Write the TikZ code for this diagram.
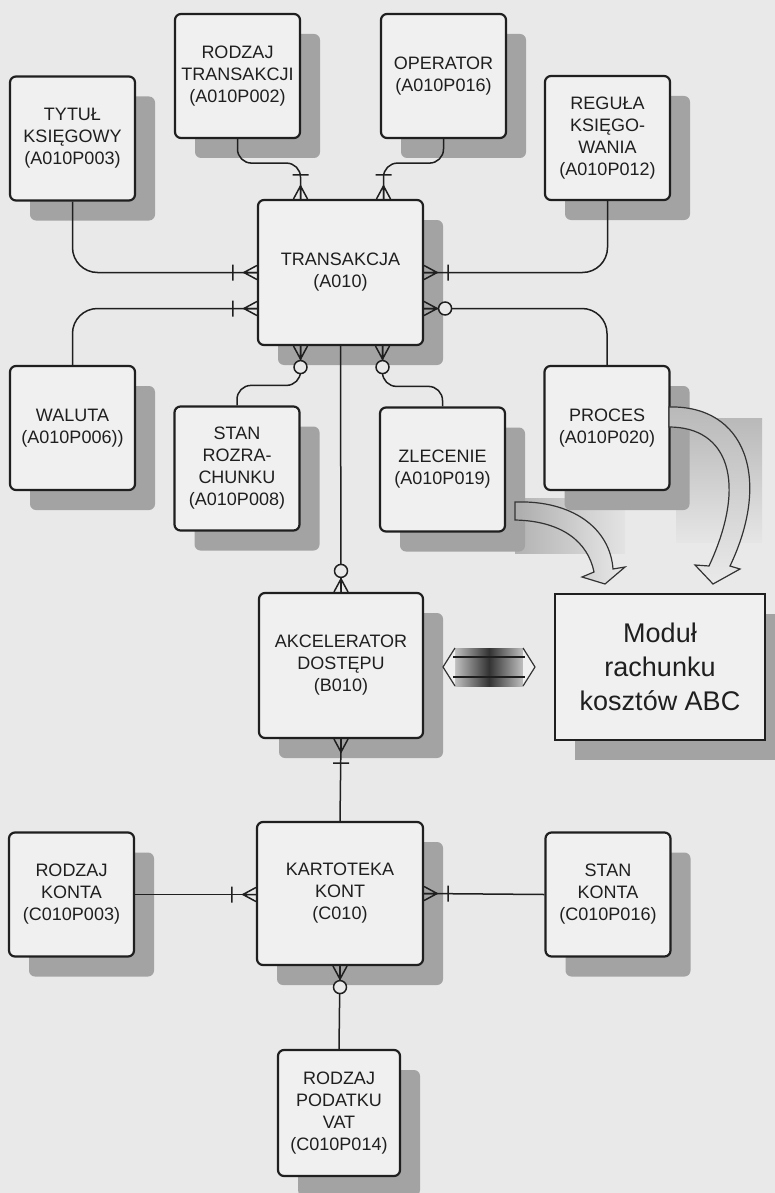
\documentclass[tikz,border=0pt]{standalone}
\usepackage{fontspec}
\setmainfont{Liberation Sans}
\usetikzlibrary{shadows}
\definecolor{paper}{gray}{0.915}
\definecolor{boxfill}{gray}{0.94}
\definecolor{ink}{gray}{0.12}
\definecolor{shade}{gray}{0.64}
\tikzset{
  entity/.style={draw=ink, line width=2.2pt, rounded corners=6pt, fill=boxfill, text=ink,
    align=center, font=\fontsize{18pt}{22pt}\selectfont, inner sep=2pt,
    minimum width=125pt, minimum height=124pt,
    drop shadow={shadow xshift=20pt, shadow yshift=-20pt, fill=shade, opacity=1}},
  module/.style={entity, rounded corners=0pt, line width=2.8pt,
    font=\fontsize{27pt}{34pt}\selectfont},
  conn/.style={draw=ink, line width=1.5pt},
  bigarrow/.style={draw=gray!40!black, line width=1.2pt},
  manyone/.pic={\draw[conn] (0,7) -- (13,0) -- (0,-7) (0,0) -- (13,0) (24,-8) -- (24,8);},
  manyzero/.pic={\draw[conn] (0,7) -- (13,0) -- (0,-7) (0,0) -- (13,0);
    \draw[conn, fill=paper] (21,0) circle[radius=6.5pt];}
}
\begin{document}
\begin{tikzpicture}[x=1pt,y=-1pt]
\fill[paper] (0,0) rectangle (775,1193);
\useasboundingbox (0,0) rectangle (775,1193);
\shade[left color=gray!60, right color=gray!22] (515,498) rectangle (625,553);
\shade[top color=gray!55, bottom color=gray!20] (676,418) rectangle (762,542);

\node[entity] (tytul) at (72.5,138.5) {TYTUŁ\\KSIĘGOWY\\(A010P003)};
\node[entity] (rtrans) at (237.5,76) {RODZAJ\\TRANSAKCJI\\(A010P002)};
\node[entity] (operator) at (443.5,76) {OPERATOR\\(A010P016)};
\node[entity] (regula) at (607.5,138) {REGUŁA\\KSIĘGO-\\WANIA\\(A010P012)};
\node[entity, minimum width=165pt, minimum height=145pt] (transakcja) at (340.5,272.5) {TRANSAKCJA\\(A010)};
\node[entity] (waluta) at (72.5,428) {WALUTA\\(A010P006))};
\node[entity] (stanrozr) at (237,468.5) {STAN\\ROZRA-\\CHUNKU\\(A010P008)};
\node[entity] (zlecenie) at (442.5,469.5) {ZLECENIE\\(A010P019)};
\node[entity] (proces) at (607,428) {PROCES\\(A010P020)};
\node[entity, minimum width=164pt, minimum height=145pt] (akcel) at (341,665.5) {AKCELERATOR\\DOSTĘPU\\(B010)};
\node[module, minimum width=210pt, minimum height=146pt] (modul) at (660,667) {Moduł\\rachunku\\kosztów ABC};
\node[entity] (rkonta) at (71.5,894.5) {RODZAJ\\KONTA\\(C010P003)};
\node[entity, minimum width=166pt, minimum height=143pt] (kartoteka) at (340,893.5) {KARTOTEKA\\KONT\\(C010)};
\node[entity] (stankonta) at (608,894.5) {STAN\\KONTA\\(C010P016)};
\node[entity, minimum width=122pt, minimum height=126pt] (podatek) at (339,1113) {RODZAJ\\PODATKU\\VAT\\(C010P014)};

\coordinate (t1) at ([xshift=-40pt]transakcja.north);
\coordinate (t2) at ([xshift=43pt]transakcja.north);
\coordinate (b1) at ([xshift=-40pt]transakcja.south);
\coordinate (b2) at ([xshift=42pt]transakcja.south);
\coordinate (w2) at ([yshift=-36pt]transakcja.west);
\coordinate (e2) at ([yshift=-36pt]transakcja.east);

\draw[conn, rounded corners=25pt] (tytul.south) |- (transakcja.west);
\draw[conn, rounded corners=25pt] (waluta.north) |- (w2);
\draw[conn, rounded corners=14pt] (rtrans.south) -- ++(0,24) -| (t1);
\draw[conn, rounded corners=14pt] (operator.south) -- ++(0,24) -| (t2);
\draw[conn, rounded corners=25pt] (regula.south) |- (transakcja.east);
\draw[conn, rounded corners=25pt] (proces.north) |- (e2);
\draw[conn, rounded corners=14pt] (stanrozr.north) -- ++(0,-20) -| (b1);
\draw[conn, rounded corners=14pt] (zlecenie.north) -- ++(0,-20) -| (b2);
\draw[conn] (transakcja.south) -- (akcel.north);
\draw[conn] (akcel.south) -- (kartoteka.north);
\draw[conn] (rkonta.east) -- (kartoteka.west |- rkonta.east);
\draw[conn] (kartoteka.east) -- (stankonta.west);
\draw[conn] (kartoteka.south) -- (podatek.north);

\pic[rotate=180] at (transakcja.west) {manyone};
\pic[rotate=180] at (w2) {manyone};
\pic[rotate=90] at (t1) {manyone};
\pic[rotate=90] at (t2) {manyone};
\pic at (transakcja.east) {manyone};
\pic at (e2) {manyzero};
\pic[rotate=-90] at (b1) {manyzero};
\pic[rotate=-90] at (b2) {manyzero};
\pic[rotate=90] at (akcel.north) {manyzero};
\pic[rotate=-90] at (akcel.south) {manyone};
\pic[rotate=180] at (kartoteka.west |- rkonta.east) {manyone};
\pic at (kartoteka.east) {manyone};
\pic[rotate=-90] at (kartoteka.south) {manyzero};

\draw[bigarrow, left color=gray!65, right color=paper] (515,502) .. controls (572,500) and (610,528) .. (613,569)
  -- (625,567) -- (605,584) -- (582,577) -- (594,572) .. controls (588,542) and (562,521) .. (515,520) -- cycle;
\draw[bigarrow, top color=gray!55, bottom color=paper] (669,407) .. controls (745,405) and (772,478) .. (730,566)
  -- (740,569) -- (713,584) -- (695,565) -- (709,566) .. controls (748,482) and (728,427) .. (669,427) -- cycle;

\shade[left color=gray!50, right color=gray!50, middle color=black!80] (455,648) rectangle (523,686);
\fill[boxfill] (455,648) -- (443,667) -- (455,686) -- cycle (523,648) -- (535,667) -- (523,686) -- cycle;
\draw[bigarrow] (455,648) -- (443,667) -- (455,686) (523,648) -- (535,667) -- (523,686);
\draw[bigarrow, draw=ink, line width=1.8pt] (453,657) -- (525,657) (453,677) -- (525,677);
\end{tikzpicture}
\end{document}
